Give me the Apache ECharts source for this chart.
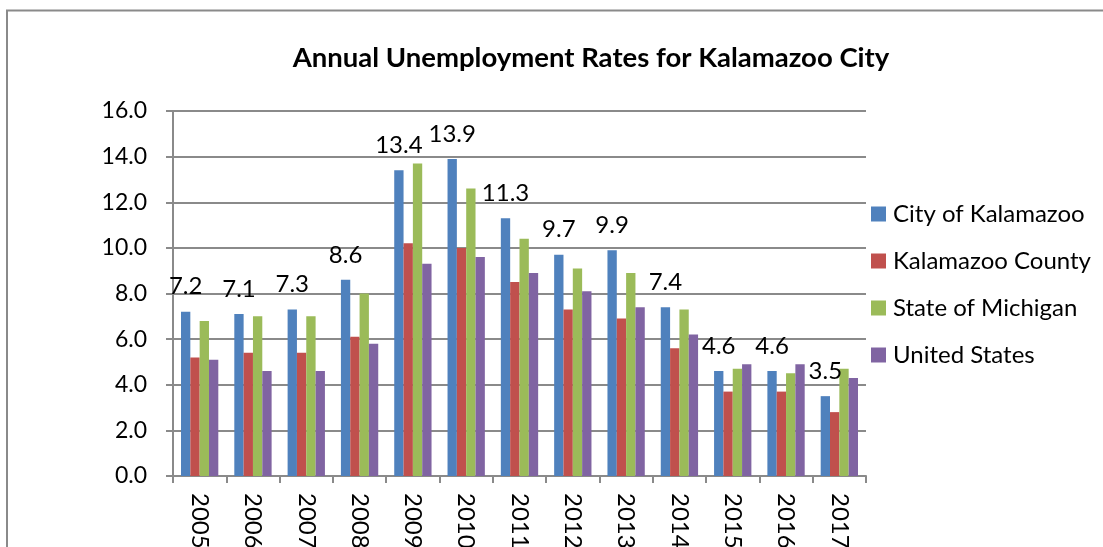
<!DOCTYPE html>
<html>
<head>
<meta charset="utf-8">
<script src="https://cdn.jsdelivr.net/npm/echarts@6/dist/echarts.min.js"></script>
<style>
html,body{margin:0;padding:0;background:#fff;}
#chart{width:1103px;height:547px;}
</style>
</head>
<body>
<div id="chart"></div>
<script>
const years = ['2005','2006','2007','2008','2009','2010','2011','2012','2013','2014','2015','2016','2017'];
const cityKalamazoo = [7.2, 7.1, 7.3, 8.6, 13.4, 13.9, 11.3, 9.7, 9.9, 7.4, 4.6, 4.6, 3.5];
const kalamazooCounty = [5.2, 5.4, 5.4, 6.1, 10.2, 10.0, 8.5, 7.3, 6.9, 5.6, 3.7, 3.7, 2.8];
const stateMichigan = [6.8, 7.0, 7.0, 8.0, 13.7, 12.6, 10.4, 9.1, 8.9, 7.3, 4.7, 4.5, 4.7];
const unitedStates = [5.1, 4.6, 4.6, 5.8, 9.3, 9.6, 8.9, 8.1, 7.4, 6.2, 4.9, 4.9, 4.3];
const seriesNames = ['City of Kalamazoo', 'Kalamazoo County', 'State of Michigan', 'United States'];
const colors = ['#4F81BD', '#C0504D', '#9BBB59', '#8064A2'];

const FONT = 'Lato, "Open Sans", sans-serif';
const chart = echarts.init(document.getElementById('chart'), null, {renderer: 'canvas'});
const dataSets = [cityKalamazoo, kalamazooCounty, stateMichigan, unitedStates];

chart.setOption({
  animation: false,
  color: colors,
  textStyle: {fontFamily: FONT},
  title: {
    text: 'Annual Unemployment Rates for Kalamazoo City',
    left: 586, textAlign: 'center', top: 39,
    textStyle: {fontFamily: FONT, fontWeight: 'bold', fontSize: 27.5, color: '#000'}
  },
  graphic: [{
    type: 'polyline',
    shape: {points: [[7, 560], [7, 10.5], [1110, 10.5]]},
    style: {stroke: '#8a8a8a', lineWidth: 2, fill: null},
    silent: true
  }],
  legend: {
    orient: 'vertical',
    left: 866, top: 197,
    itemWidth: 15, itemHeight: 15, itemGap: 23,
    icon: 'rect',
    textStyle: {fontFamily: FONT, fontSize: 24, color: '#000', padding: [0, 0, 0, 2]},
    data: seriesNames
  },
  grid: {left: 173, right: 237, top: 111, bottom: 71, containLabel: false, outerBoundsMode: 'none'},
  xAxis: {
    type: 'category',
    data: years,
    axisLine: {lineStyle: {color: '#8a8a8a', width: 2}},
    axisTick: {show: true, length: 7, lineStyle: {color: '#8a8a8a', width: 2}},
    axisLabel: {rotate: -90, margin: 17, fontSize: 24, color: '#000', fontFamily: FONT}
  },
  yAxis: {
    type: 'value', min: 0, max: 16, interval: 2,
    axisLine: {show: true, lineStyle: {color: '#8a8a8a', width: 2}},
    axisTick: {show: true, length: 7, lineStyle: {color: '#8a8a8a', width: 2}},
    splitLine: {lineStyle: {color: '#8a8a8a', width: 2}},
    axisLabel: {margin: 26, fontSize: 23, color: '#000', fontFamily: FONT,
      formatter: v => v.toFixed(1)}
  },
  series: seriesNames.map((name, i) => ({
    name: name,
    type: 'bar',
    data: dataSets[i],
    barGap: '0%',
    barCategoryGap: '30%',
    itemStyle: {color: colors[i]},
    label: i === 0 ? {
      show: true, position: 'top', distance: 13,
      fontSize: 24, color: '#000', fontFamily: FONT,
      formatter: p => p.value.toFixed(1)
    } : {show: false}
  }))
});
</script>
</body>
</html>
